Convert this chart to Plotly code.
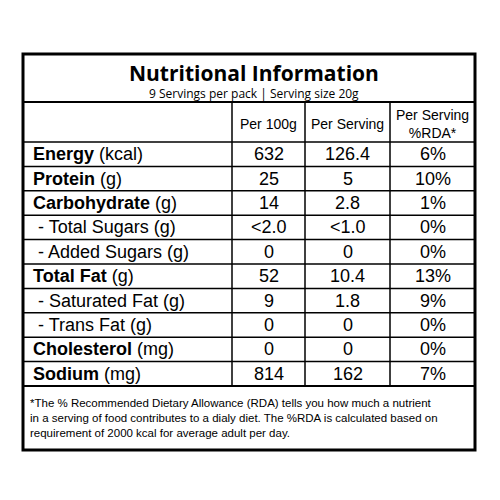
import plotly.graph_objects as go

title = "Nutritional Information"
subtitle = "9 Servings per pack | Serving size 20g"
col_headers = ["Per 100g", "Per Serving", "Per Serving<br>%RDA*"]
nutrients = ["<b>Energy</b> (kcal)", "<b>Protein</b> (g)", "<b>Carbohydrate</b> (g)",
             " - Total Sugars (g)", " - Added Sugars (g)", "<b>Total Fat</b> (g)",
             " - Saturated Fat (g)", " - Trans Fat (g)", "<b>Cholesterol</b> (mg)",
             "<b>Sodium</b> (mg)"]
per_100g = ["632", "25", "14", "<2.0", "0", "52", "9", "0", "0", "814"]
per_serving = ["126.4", "5", "2.8", "<1.0", "0", "10.4", "1.8", "0", "0", "162"]
rda = ["6%", "10%", "1%", "0%", "0%", "13%", "9%", "0%", "0%", "7%"]
footnote = ("*The % Recommended Dietary Allowance (RDA) tells you how much a nutrient<br>"
            "in a serving of food contributes to a dialy diet. The %RDA is calculated based on<br>"
            "requirement of 2000 kcal for average adult per day.")

L, R, T, B = 23, 475, 54, 450
cols = [L, 232, 305, 390, R]
head_top, head_bot = 102, 142
row_h = 24.4
foot_top = head_bot + row_h * len(nutrients)

fig = go.Figure()
shapes = []
line = dict(color="black", width=1.5)
shapes.append(dict(type="rect", x0=L, x1=R, y0=T, y1=B, line=dict(color="black", width=3)))
for y in [head_top, foot_top]:
    shapes.append(dict(type="line", x0=L, x1=R, y0=y, y1=y, line=dict(color="black", width=2)))
for i in range(len(nutrients)):
    y = head_bot + row_h * i
    shapes.append(dict(type="line", x0=L, x1=R, y0=y, y1=y, line=line))
for x in cols[1:-1]:
    shapes.append(dict(type="line", x0=x, x1=x, y0=head_top, y1=foot_top, line=line))

ann = []
ann.append(dict(x=254, y=73, text="<b>" + title + "</b>", font=dict(size=21, family="Open Sans")))
ann.append(dict(x=254, y=93, text=subtitle, font=dict(size=12, family="Open Sans")))
for j, h in enumerate(col_headers):
    ann.append(dict(x=(cols[j + 1] + cols[j + 2]) / 2, y=(head_top + head_bot) / 2 + 2, text=h,
                    font=dict(size=14, family="Liberation Sans")))
for i, name in enumerate(nutrients):
    yc = head_bot + row_h * (i + 0.5)
    ann.append(dict(x=L + 8, y=yc, text=name, xanchor="left",
                    font=dict(size=18, family="Liberation Sans")))
    for j, v in enumerate([per_100g[i], per_serving[i], rda[i]]):
        ann.append(dict(x=(cols[j + 1] + cols[j + 2]) / 2, y=yc, text=v,
                        font=dict(size=18, family="Liberation Sans")))
ann.append(dict(x=L + 5, y=(foot_top + B) / 2, text=footnote, xanchor="left", align="left",
                font=dict(size=11.5, family="Liberation Sans")))
for a in ann:
    a.update(xref="x", yref="y", showarrow=False)
    a.setdefault("xanchor", "center")
    a["font"]["color"] = "black"

# page body has an 8px margin, so shift the coordinate frame to compensate
fig.update_layout(width=500, height=500, margin=dict(l=0, r=0, t=0, b=0),
                  paper_bgcolor="white", plot_bgcolor="white",
                  shapes=shapes, annotations=ann, showlegend=False,
                  xaxis=dict(range=[8, 508], visible=False),
                  yaxis=dict(range=[508, 8], visible=False))
fig.write_html("out.html")
